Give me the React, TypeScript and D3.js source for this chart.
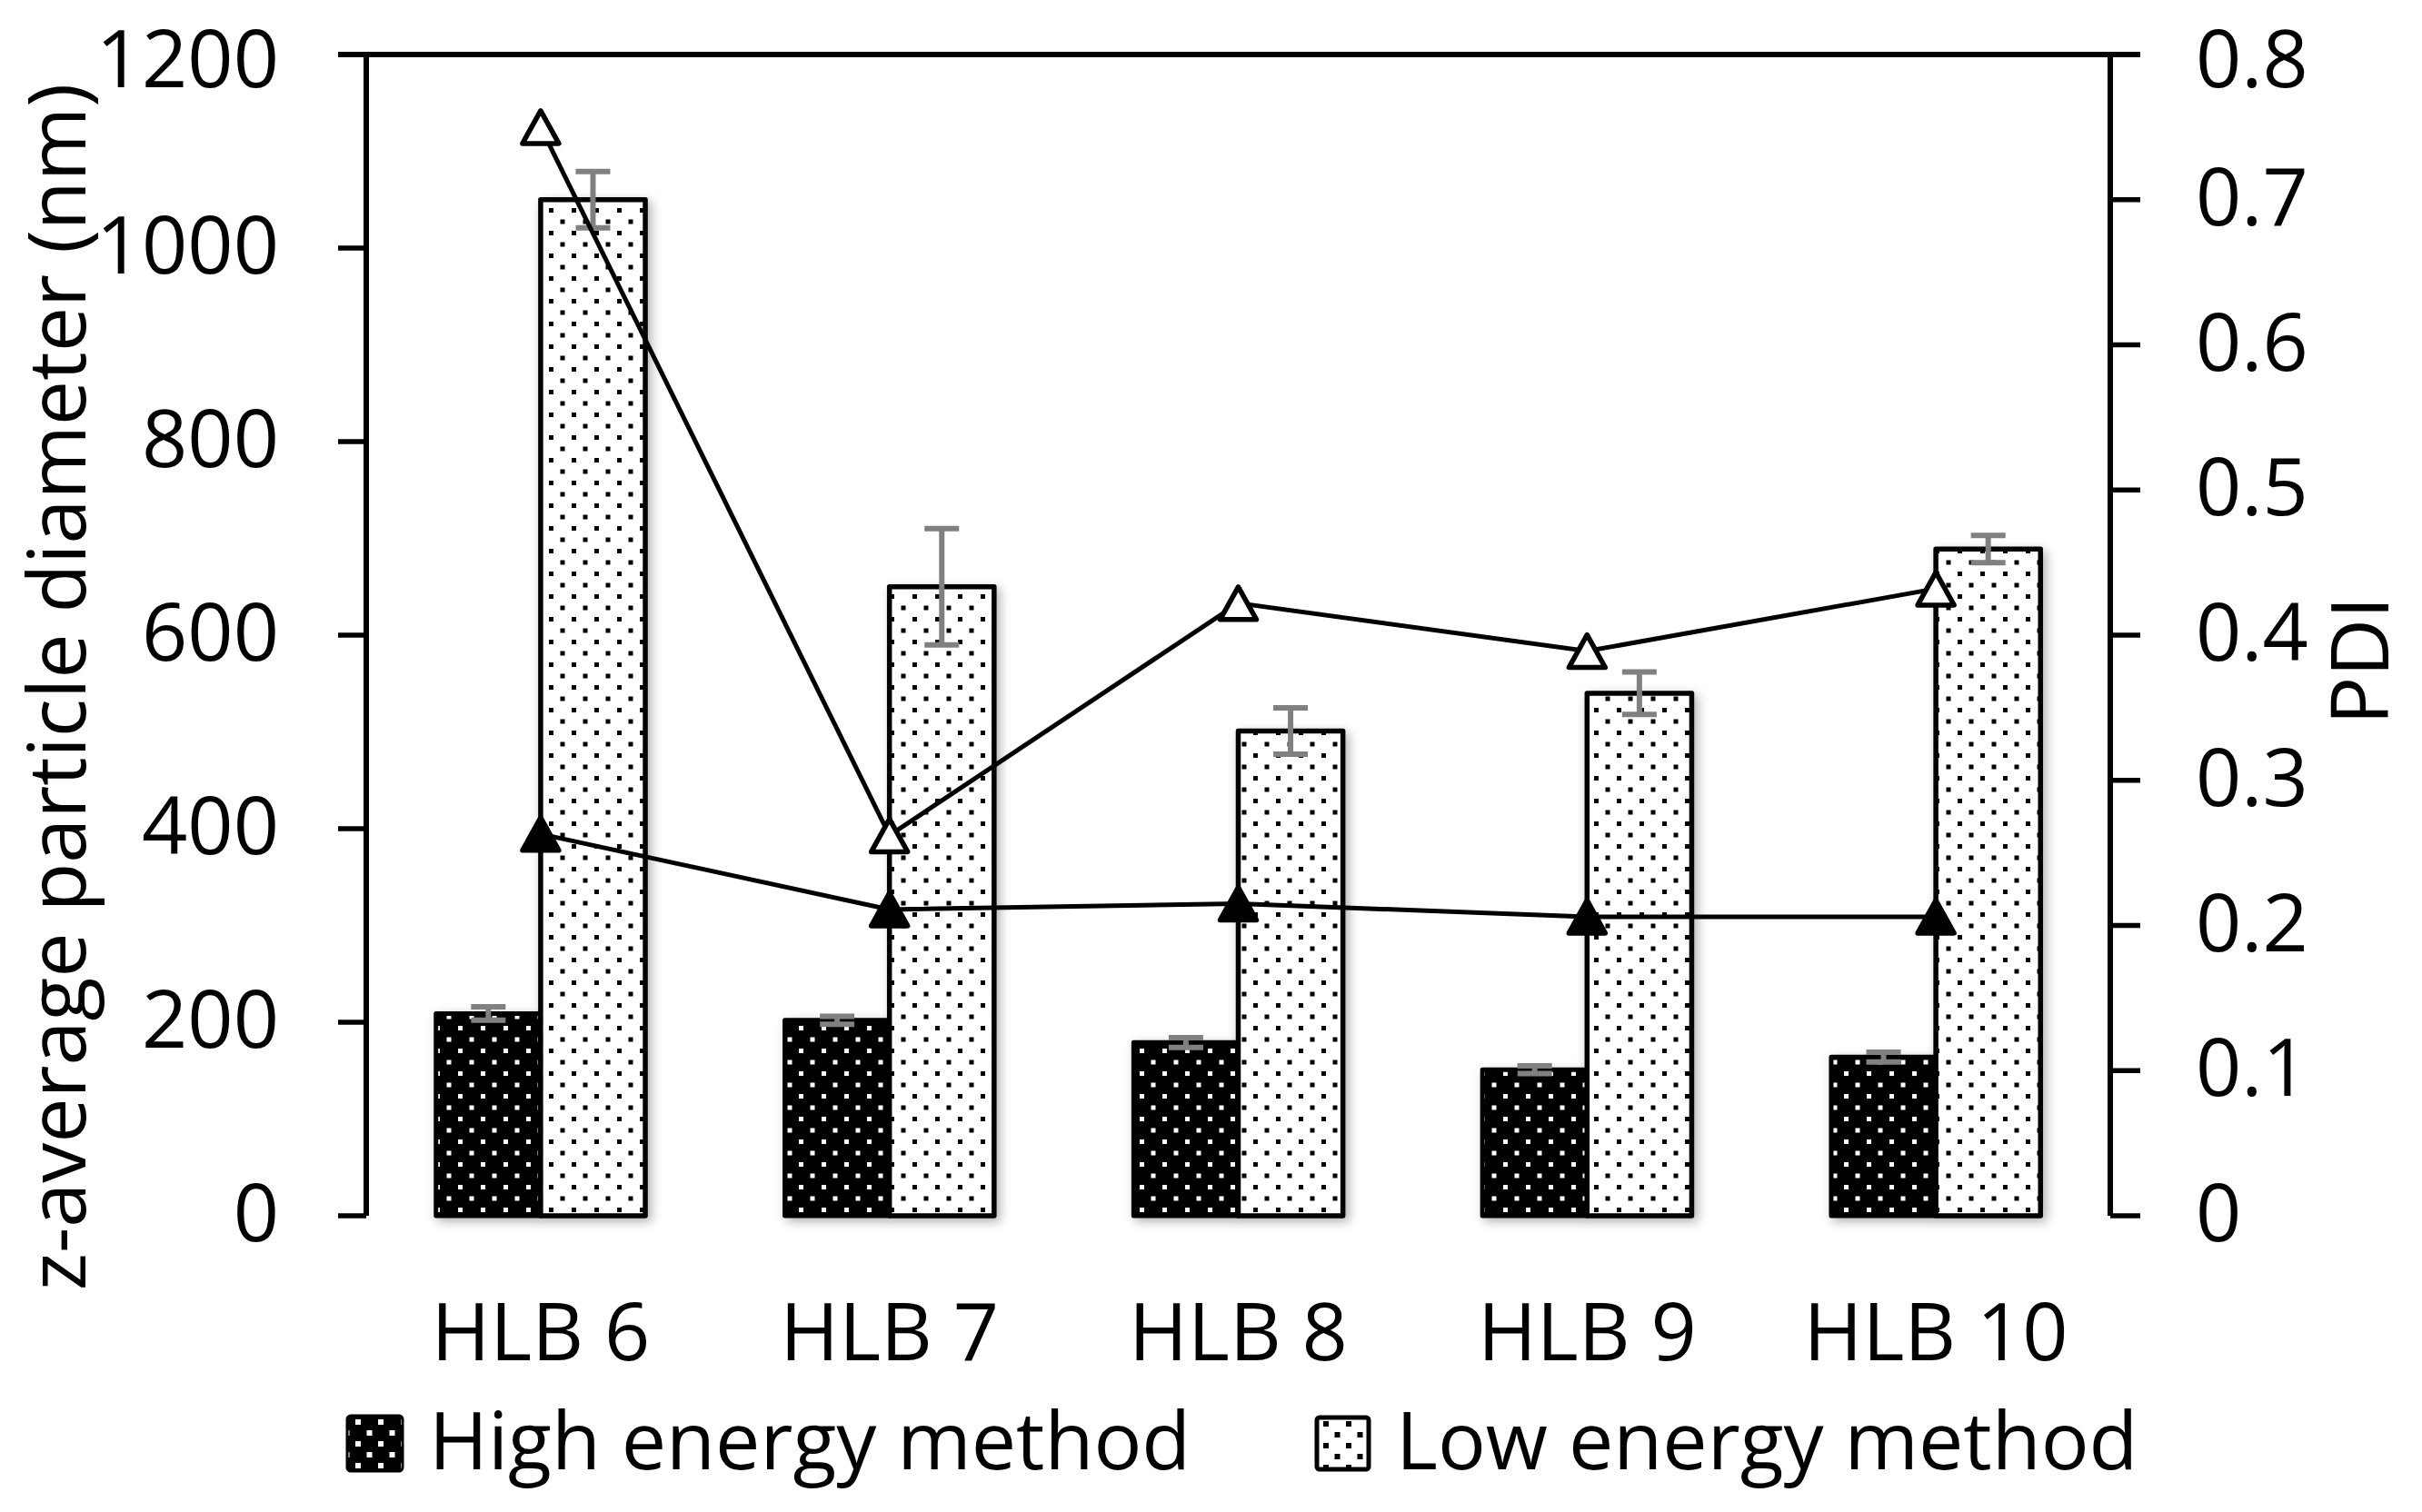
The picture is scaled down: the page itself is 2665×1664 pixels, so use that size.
import React, { useEffect } from 'react';
import * as d3 from 'd3';

const categories = ['HLB 6', 'HLB 7', 'HLB 8', 'HLB 9', 'HLB 10'];
const highSize = [209, 202, 179, 151, 164];
const highErr = [7, 4, 5, 4, 5];
const lowSize = [1050, 650, 501, 540, 689];
const lowErr = [29, 60, 24, 22, 14];
const highPdi = [0.263, 0.211, 0.215, 0.206, 0.206];
const lowPdi = [0.75, 0.262, 0.422, 0.389, 0.432];
const leftTicks = [0, 200, 400, 600, 800, 1000, 1200];
const rightTicks = [0, 0.1, 0.2, 0.3, 0.4, 0.5, 0.6, 0.7, 0.8];
const seriesNames = ['High energy method', 'Low energy method'];

const W = 2665;
const H = 1664;
const left = 403;
const right = 2322;
const top = 60;
const bottom = 1338;
const font = '"Open Sans", "Noto Sans", sans-serif';
const fs = 88;

// triangle marker centred on its bounding box
const triPath = (w: number, h: number) => {
  const p = d3.path();
  p.moveTo(0, -h / 2);
  p.lineTo(w / 2, h / 2);
  p.lineTo(-w / 2, h / 2);
  p.closePath();
  return p.toString();
};

// keep the top tick labels inside the picture
const labelY = (v: number) => Math.max(v + 28, 96);

const App = () => {
  useEffect(() => {
    document.body.style.margin = '0';
  }, []);

  const x = d3.scaleBand().domain(categories).range([left, right]).paddingInner(0);
  const y = d3.scaleLinear().domain([0, 1200]).range([bottom, top]);
  const y2 = d3.scaleLinear().domain([0, 0.8]).range([bottom, top]);
  const cx = (c: string) => (x(c) as number) + x.bandwidth() / 2;
  const barW = x.bandwidth() * 0.3;

  const lineGen = d3.line<number>()
    .x((_, i) => cx(categories[i]))
    .y(d => y2(d));

  const tri = triPath(40, 36);

  return (
    <svg width={W} height={H} viewBox={`0 0 ${W} ${H}`} style={{ display: 'block', background: '#fff' }}>
      <defs>
        <pattern id="dotsDark" width={25} height={25} patternUnits="userSpaceOnUse">
          <rect width={25} height={25} fill="#000" />
          <rect x={4} y={4} width={5} height={5} fill="#fff" />
          <rect x={16.5} y={16.5} width={5} height={5} fill="#fff" />
        </pattern>
        <pattern id="dotsLight" width={25} height={25} patternUnits="userSpaceOnUse">
          <rect width={25} height={25} fill="#fff" />
          <rect x={4} y={4} width={5} height={5} fill="#000" />
          <rect x={16.5} y={16.5} width={5} height={5} fill="#000" />
        </pattern>
        <pattern id="legDark" width={25} height={24} patternUnits="userSpaceOnUse" x={382} y={1558}>
          <rect width={25} height={24} fill="#000" />
          <rect x={9} y={4} width={6} height={6} fill="#fff" />
          <rect x={21.5} y={16} width={6} height={6} fill="#fff" />
          <rect x={-3.5} y={16} width={6} height={6} fill="#fff" />
        </pattern>
        <pattern id="legLight" width={25} height={24} patternUnits="userSpaceOnUse" x={1447} y={1558}>
          <rect width={25} height={24} fill="#fff" />
          <rect x={9} y={6} width={6} height={6} fill="#000" />
          <rect x={21.5} y={18} width={6} height={6} fill="#000" />
          <rect x={-3.5} y={18} width={6} height={6} fill="#000" />
        </pattern>
        <filter id="shadow" x="-30%" y="-10%" width="160%" height="125%">
          <feDropShadow dx={4} dy={4} stdDeviation={6} floodColor="#000" floodOpacity={0.3} />
        </filter>
      </defs>

      {/* bars */}
      {categories.map((c, i) => (
        <g key={c} filter="url(#shadow)">
          <rect x={cx(c) - barW} y={y(highSize[i])} width={barW} height={bottom - y(highSize[i])}
            fill="url(#dotsDark)" stroke="#000" strokeWidth={5} strokeLinejoin="round" />
          <rect x={cx(c)} y={y(lowSize[i])} width={barW} height={bottom - y(lowSize[i])}
            fill="url(#dotsLight)" stroke="#000" strokeWidth={5.5} strokeLinejoin="round" />
        </g>
      ))}

      {/* error bars */}
      {categories.map((c, i) => {
        const xs = [cx(c) - barW / 2, cx(c) + barW / 2];
        const vals = [[highSize[i], highErr[i]], [lowSize[i], lowErr[i]]];
        return vals.map(([v, e], k) => (
          <g key={c + k} stroke="#808080" strokeWidth={6}>
            <line x1={xs[k]} x2={xs[k]} y1={y(v + e)} y2={y(v - e)} />
            <line x1={xs[k] - 19} x2={xs[k] + 19} y1={y(v + e)} y2={y(v + e)} />
            <line x1={xs[k] - 19} x2={xs[k] + 19} y1={y(v - e)} y2={y(v - e)} />
          </g>
        ));
      })}

      {/* category axis */}
      <line x1={left} x2={right} y1={bottom} y2={bottom} stroke="#d9d9d9" strokeWidth={7} filter="url(#shadow)" />

      {/* frame and value axes */}
      <line x1={left} x2={left} y1={top} y2={bottom} stroke="#000" strokeWidth={6} />
      <line x1={right} x2={right} y1={top} y2={bottom} stroke="#000" strokeWidth={6} />
      <line x1={left - 31} x2={right + 33} y1={top} y2={top} stroke="#000" strokeWidth={6} />

      {leftTicks.map(t => (
        <g key={t}>
          <line x1={left - 31} x2={left} y1={y(t)} y2={y(t)} stroke="#000" strokeWidth={5.5} />
          <text x={307} y={labelY(y(t))} textAnchor="end" fontFamily={font} fontSize={fs}>{t}</text>
        </g>
      ))}
      {rightTicks.map(t => (
        <g key={t}>
          <line x1={right} x2={right + 33} y1={y2(t)} y2={y2(t)} stroke="#000" strokeWidth={5.5} />
          <text x={2416} y={labelY(y2(t))} textAnchor="start" fontFamily={font} fontSize={fs}>
            {t === 0 ? '0' : d3.format('.1f')(t)}
          </text>
        </g>
      ))}

      {/* PDI lines and markers */}
      <path d={lineGen(lowPdi) as string} fill="none" stroke="#000" strokeWidth={5} />
      <path d={lineGen(highPdi) as string} fill="none" stroke="#000" strokeWidth={5} />
      {categories.map((c, i) => (
        <g key={'m' + c}>
          <path d={tri} transform={`translate(${cx(c)},${y2(lowPdi[i])})`}
            fill="#fff" stroke="#000" strokeWidth={5.5} strokeLinejoin="round" />
          <path d={tri} transform={`translate(${cx(c)},${y2(highPdi[i])})`}
            fill="#000" stroke="#000" strokeWidth={5.5} strokeLinejoin="round" />
        </g>
      ))}

      {/* category labels */}
      {categories.map(c => (
        <text key={'l' + c} x={cx(c)} y={1497} textAnchor="middle" fontFamily={font} fontSize={fs}>{c}</text>
      ))}

      {/* axis titles */}
      <text transform="translate(94,756) rotate(-90)" textAnchor="middle" fontFamily={font} fontSize={fs}>
        z-average particle diameter (nm)
      </text>
      <text transform="translate(2628,727) rotate(-90)" textAnchor="middle" fontFamily={font} fontSize={fs}>
        PDI
      </text>

      {/* legend */}
      <rect x={382} y={1558} width={61} height={61} rx={4} fill="url(#legDark)" stroke="#000" strokeWidth={3} />
      <text x={472} y={1617} fontFamily={font} fontSize={fs}>{seriesNames[0]}</text>
      <rect x={1449} y={1560} width={57} height={57} rx={3} fill="url(#legLight)" stroke="#000" strokeWidth={5} />
      <text x={1536} y={1617} fontFamily={font} fontSize={fs}>{seriesNames[1]}</text>
    </svg>
  );
};

export default App;
